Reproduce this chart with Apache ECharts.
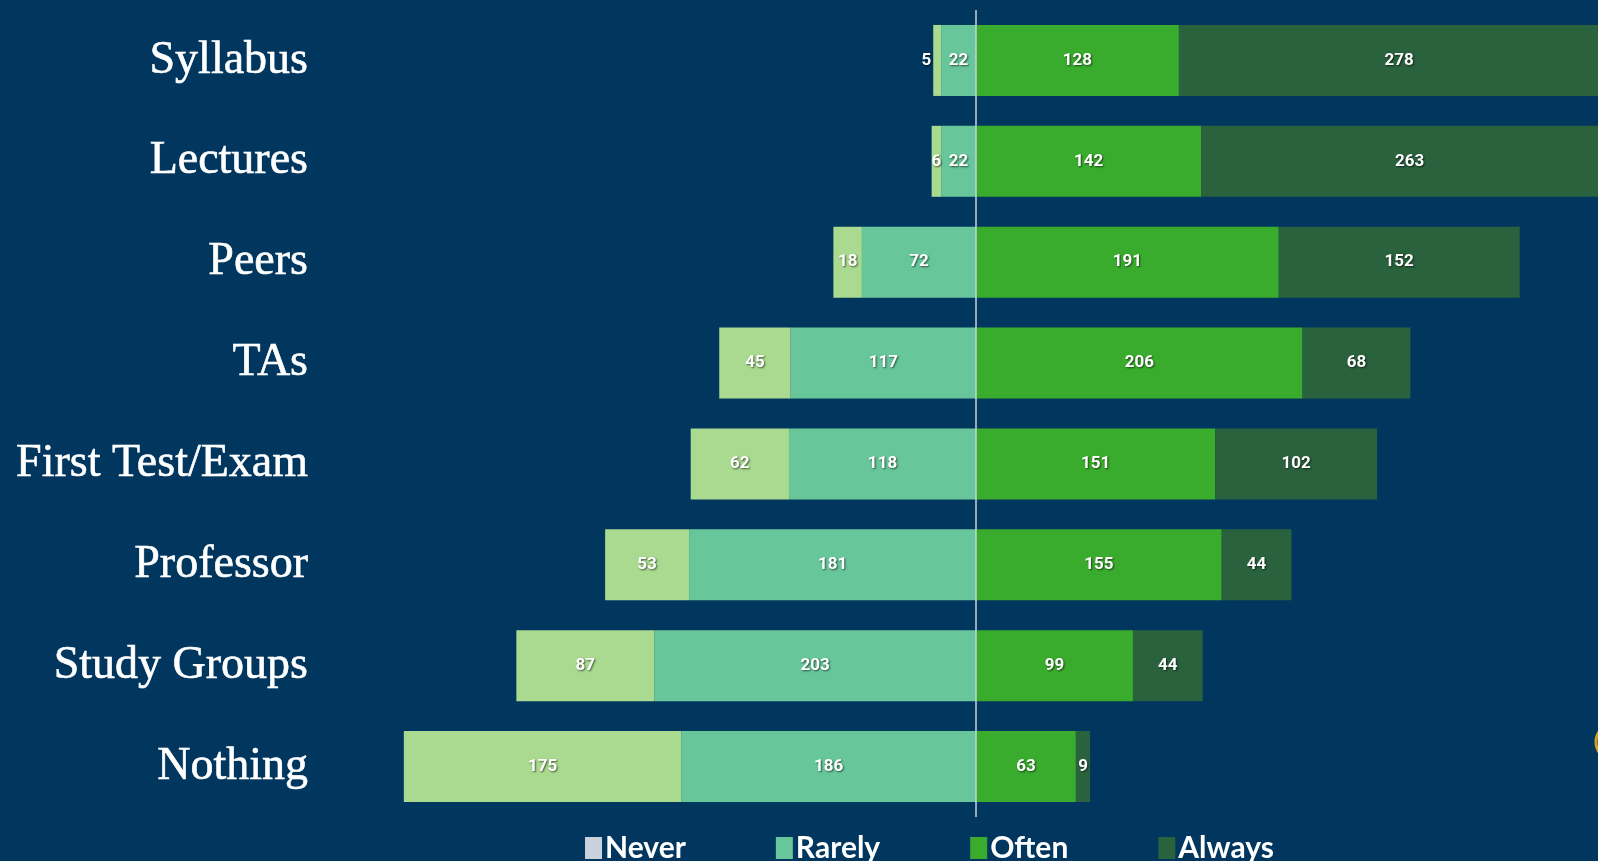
<!DOCTYPE html>
<html>
<head>
<meta charset="utf-8">
<title>Sources used</title>
<script src="https://cdn.jsdelivr.net/npm/echarts@6/dist/echarts.min.js"></script>
<style>
  html, body { margin: 0; padding: 0; background: #01375f; }
  #chart { width: 1598px; height: 861px; }
</style>
</head>
<body>
<div id="chart"></div>
<script>
// Survey responses per source, top to bottom
const categories = ['Syllabus', 'Lectures', 'Peers', 'TAs', 'First Test/Exam', 'Professor', 'Study Groups', 'Nothing'];
const never  = [5, 6, 18, 45, 62, 53, 87, 175];
const rarely = [22, 22, 72, 117, 118, 181, 203, 186];
const often  = [128, 142, 191, 206, 151, 155, 99, 63];
const always = [278, 263, 152, 68, 102, 44, 44, 9];
const legendNames = ['Never', 'Rarely', 'Often', 'Always'];

const colors = {
  Never: '#a9da8f',
  Rarely: '#67c79a',
  Often: '#3aac2d',
  Always: '#2a623d'
};

const labelStyle = {
  show: true,
  position: 'inside',
  color: '#ffffff',
  fontFamily: 'Roboto',
  fontWeight: 'bold',
  fontSize: 17,
  textShadowColor: 'rgba(0,0,0,0.6)',
  textShadowBlur: 2,
  textShadowOffsetX: 1,
  textShadowOffsetY: 1,
  formatter: p => Math.abs(p.value)
};

function barSeries(name, values, negative) {
  return {
    name: name,
    type: 'bar',
    stack: 'total',
    barWidth: 71,
    clip: false,
    // very thin segments get their number placed just outside
    data: values.map(v => {
      const val = negative ? -v : v;
      return v <= 5
        ? { value: val, label: { position: negative ? 'left' : 'right', distance: 2 } }
        : val;
    }),
    itemStyle: { color: colors[name] },
    label: labelStyle,
    emphasis: { disabled: true }
  };
}

// Negative side: Rarely sits next to the centre line, Never further out
const series = [
  barSeries('Rarely', rarely, true),
  barSeries('Never', never, true),
  barSeries('Often', often, false),
  barSeries('Always', always, false)
];

// Centre divider at zero
series[0].markLine = {
  silent: true,
  symbol: 'none',
  label: { show: false },
  lineStyle: { color: '#c9d1dc', width: 1.5, type: 'solid' },
  data: [{ xAxis: 0 }]
};

const chart = echarts.init(document.getElementById('chart'));
chart.setOption({
  backgroundColor: '#01375f',
  animation: false,
  // the longest bars run past the right edge of the canvas
  grid: { left: 342, right: 0, top: 10, bottom: 44, containLabel: false },
  xAxis: {
    type: 'value',
    min: -400,
    max: 392.4,
    show: false
  },
  yAxis: {
    type: 'category',
    data: categories,
    inverse: true,
    axisLine: { show: false, onZero: false },
    axisTick: { show: false },
    splitLine: { show: false },
    axisLabel: {
      color: '#ffffff',
      fontFamily: 'Liberation Serif',
      fontSize: 46,
      margin: 34,
      textBorderColor: '#ffffff',
      textBorderWidth: 0.6
    }
  },
  legend: {
    left: 580,
    top: 828,
    icon: 'rect',
    itemWidth: 17,
    itemHeight: 22,
    itemGap: 90,
    selectedMode: false,
    textStyle: {
      color: '#ffffff',
      fontFamily: 'Lato',
      fontWeight: 'bold',
      fontSize: 30,
      padding: [0, 0, 0, -2]
    },
    data: legendNames.map(n => n === 'Never'
      ? { name: n, itemStyle: { color: '#c9d1dc' } }
      : { name: n })
  },
  graphic: [{
    type: 'circle',
    shape: { cx: 1614, cy: 742, r: 18 },
    style: { fill: 'none', stroke: '#d4a21a', lineWidth: 3 },
    silent: true
  }],
  series: series
});
</script>
</body>
</html>
